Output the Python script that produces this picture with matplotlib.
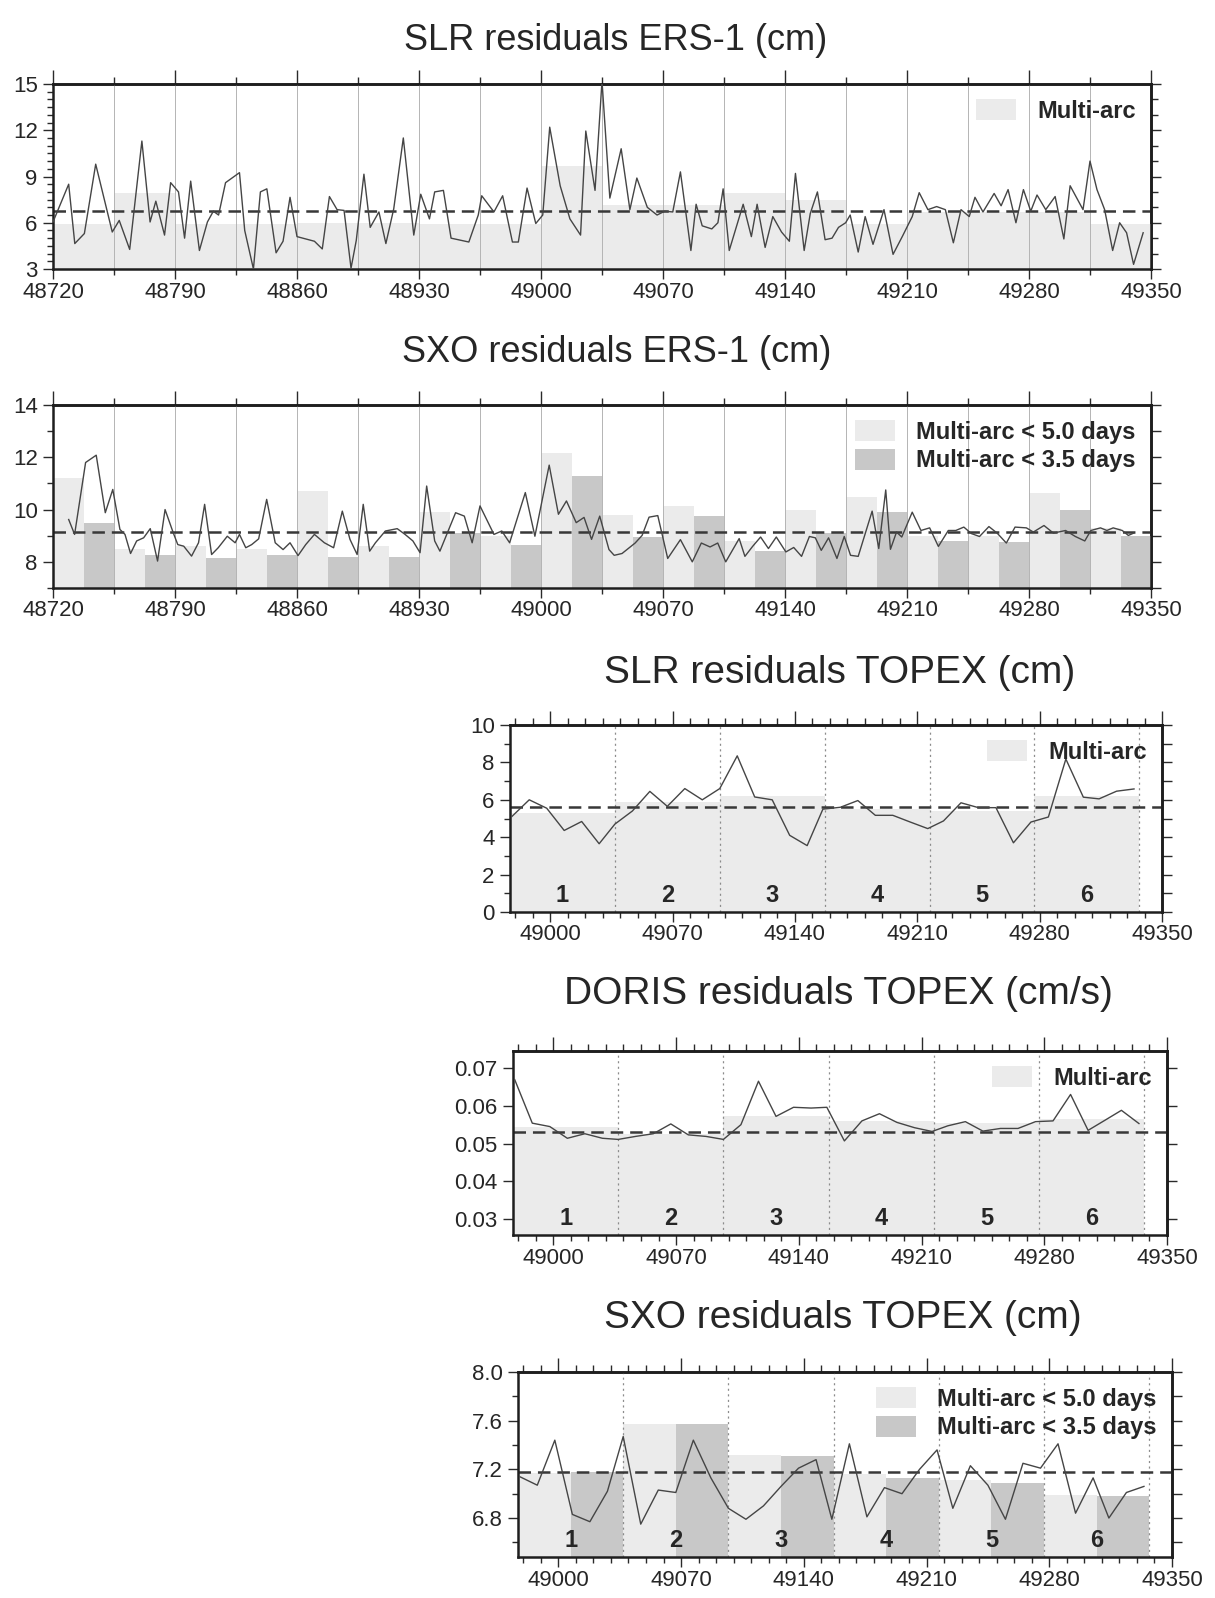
import numpy as np
import matplotlib
matplotlib.use('Agg')
import matplotlib.pyplot as plt
from matplotlib.patches import Patch
from matplotlib.ticker import MultipleLocator, NullFormatter, FormatStrFormatter

plt.rcParams['font.family'] = ['Liberation Sans', 'DejaVu Sans']
plt.rcParams['lines.scale_dashes'] = False

# ---------------- data ----------------
# ERS-1: 35-day repeat cycles
ers_cycle_starts = [48720, 48755, 48790, 48825, 48860, 48895, 48930, 48965, 49000,
                    49035, 49070, 49105, 49140, 49175, 49210, 49245, 49280, 49315]
ers_cycle_len = 35

slr_ers_bars = [5.9, 7.9, 5.9, 5.9, 6.0, 6.0, 5.9, 5.9, 9.65,
                7.15, 7.15, 7.9, 7.5, 5.9, 6.7, 6.7, 6.7, 5.9]
slr_ers_mean = 6.75
slr_ers_t = [48720, 48729, 48732.5, 48738, 48744.5, 48754, 48758, 48764, 48771, 48775.7,
             48779, 48784, 48787.5, 48792, 48795.5, 48799, 48804, 48808.6, 48812, 48815,
             48819, 48827, 48830, 48835, 48839, 48842.7, 48848, 48852, 48856, 48860,
             48870, 48874.5, 48878.6, 48883, 48887, 48891, 48894, 48898.4, 48902, 48907,
             48911, 48915.5, 48921, 48927, 48931, 48936, 48939, 48944, 48948.4, 48958.6,
             48964, 48966, 48973, 48978, 48983.6, 48987, 48992, 48997, 49001, 49005,
             49011, 49016.6, 49022.7, 49025.7, 49031, 49035, 49039.5, 49046, 49051, 49055,
             49061, 49066.6, 49071, 49075.6, 49080, 49086, 49089, 49092.5, 49098, 49101.5,
             49104.5, 49108, 49116, 49120.7, 49124, 49128.6, 49133, 49138, 49142.5, 49146,
             49151, 49154.5, 49158.6, 49163, 49167, 49170.7, 49174.8, 49177.4, 49182, 49186,
             49190.5, 49196.8, 49202, 49207.5, 49213, 49217, 49222, 49227, 49232, 49236.6,
             49241, 49245.7, 49249, 49253.6, 49260, 49264, 49268, 49272.5, 49276.8, 49281,
             49284.6, 49289.6, 49295, 49300, 49303.6, 49311, 49315, 49319, 49323.4, 49328,
             49332, 49336, 49340, 49345.5]
slr_ers_v = [6.05, 8.5, 4.65, 5.3, 9.8, 5.4, 6.15, 4.27, 11.3, 6.05,
             7.4, 5.2, 8.6, 8.0, 5.0, 8.7, 4.2, 6.05, 6.75, 6.5,
             8.6, 9.25, 5.5, 3.0, 8.0, 8.2, 4.05, 4.8, 7.65, 5.1,
             4.8, 4.3, 7.7, 6.85, 6.8, 3.05, 4.85, 9.15, 5.7, 6.7,
             4.65, 6.9, 11.5, 5.2, 7.85, 6.25, 8.0, 8.1, 5.0, 4.75,
             6.5, 7.75, 6.7, 7.75, 4.75, 4.75, 8.25, 5.95, 6.5, 12.2,
             8.4, 6.25, 5.2, 11.95, 8.1, 15.2, 7.6, 10.8, 6.85, 8.9,
             7.0, 6.5, 6.75, 6.7, 9.3, 4.2, 7.2, 5.8, 5.6, 6.0,
             8.2, 4.2, 7.2, 5.1, 7.2, 4.4, 6.4, 5.4, 4.8, 9.2,
             4.2, 6.6, 8.0, 4.9, 5.0, 5.7, 6.0, 6.5, 4.1, 6.4,
             4.6, 6.85, 3.95, 5.15, 6.4, 7.95, 6.85, 7.05, 6.85, 4.7,
             6.85, 6.4, 7.65, 6.7, 7.9, 7.1, 8.15, 6.0, 8.15, 6.75,
             7.8, 6.85, 7.7, 4.95, 8.4, 6.85, 10.0, 8.15, 6.85, 4.2,
             6.0, 5.35, 3.3, 5.35]

sxo_ers_bars_5d = [11.2, 8.5, 8.6, 8.5, 10.7, 8.6, 9.9, 9.0, 12.15,
                   9.8, 10.15, 8.8, 10.0, 10.5, 9.0, 9.0, 10.65, 9.3]
sxo_ers_bars_35d = [9.5, 8.28, 8.15, 8.28, 8.2, 8.2, 9.1, 8.64, 11.3,
                    8.96, 9.75, 8.4, 9.1, 9.9, 8.8, 8.75, 10.0, 9.0]
sxo_ers_mean = 9.15
sxo_ers_t = [48729, 48732.4, 48738.7, 48744.8, 48750, 48754.3, 48758.4, 48761.3, 48764.5, 48768,
             48772, 48775.8, 48780, 48784.3, 48789, 48791.6, 48795, 48799.5, 48803.5, 48807,
             48811, 48814.8, 48820, 48824.5, 48827, 48830.6, 48834, 48838, 48842.6, 48847.5,
             48852, 48856, 48860.6, 48865, 48870, 48875.7, 48881, 48886, 48890.4, 48894.5,
             48898, 48901.7, 48905, 48910.7, 48917.5, 48922, 48926.5, 48930.6, 48934.4, 48939,
             48942, 48951, 48956, 48960.5, 48965, 48973, 48977.5, 48982, 48991, 48996.5,
             49004.7, 49010, 49014.6, 49020.2, 49024.7, 49029, 49033.7, 49039,
             49042, 49046.5, 49054, 49058, 49062, 49067, 49072.7, 49080, 49086.8, 49092,
             49097, 49101.4, 49106, 49113.7, 49117, 49121.4, 49126, 49130.5, 49135, 49140.5,
             49145, 49149.5, 49154, 49157.4, 49160.8, 49165, 49169.8, 49174, 49177.6, 49182,
             49190, 49193.8, 49197.8, 49200.5, 49204, 49207, 49213, 49218, 49223, 49228,
             49233.7, 49238, 49242.6, 49247, 49251.6, 49257, 49261.7, 49267, 49272, 49278.5,
             49282.5, 49288.6, 49294, 49301, 49306.6, 49312, 49315.5, 49321, 49324.7, 49328.3,
             49333.5, 49337, 49340]
sxo_ers_v = [9.62, 9.05, 11.8, 12.08, 9.88, 10.77, 9.24, 9.05, 8.32, 8.8,
             8.92, 9.27, 8.03, 10.0, 9.11, 8.66, 8.6, 8.22, 8.73, 10.2,
             8.28, 8.54, 8.98, 8.73, 9.05, 8.54, 8.66, 8.88, 10.39, 8.73,
             8.47, 8.73, 8.24, 8.66, 9.05, 8.73, 8.54, 9.94, 8.86, 8.28,
             10.2, 8.41, 8.73, 9.18, 9.27, 9.05, 8.8, 8.35, 10.9, 8.8,
             8.41, 9.88, 9.75, 8.73, 10.14, 9.05, 9.18, 8.73, 10.65, 8.98,
             11.7, 9.82, 10.33, 9.5, 9.7, 8.86, 9.75, 8.47,
             8.25, 8.32, 8.72, 9.01, 9.71, 9.77, 8.13, 8.85, 8.0, 8.72,
             8.57, 8.72, 8.0, 8.89, 8.21, 8.59, 8.95, 8.51, 8.95, 8.38,
             8.55, 8.21, 8.97, 8.92, 8.44, 8.92, 8.13, 8.97, 8.25, 8.21,
             9.94, 8.51, 10.75, 8.48, 9.14, 8.95, 9.9, 9.2, 9.3, 8.59,
             9.2, 9.2, 9.33, 9.08, 8.97, 9.35, 9.1, 8.72, 9.33, 9.3,
             9.14, 9.39, 9.1, 9.2, 8.97, 8.8, 9.2, 9.3, 9.2, 9.3,
             9.2, 9.01, 9.1]

# TOPEX: six 60-day arcs, one value per 10-day cycle
topex_arc_starts = [48977, 49037, 49097, 49157, 49217, 49277]
topex_arc_len = 60
topex_t = [48978, 48988, 48998, 49008, 49018, 49028, 49037, 49047, 49057, 49067,
           49077, 49087, 49097, 49107, 49117, 49127, 49137, 49147, 49156, 49166,
           49176, 49186, 49196, 49206, 49216, 49225, 49235, 49245, 49255, 49265,
           49275, 49285, 49295, 49305, 49314, 49324, 49334]

slr_tpx_v = [5.1, 6.0, 5.55, 4.36, 4.84, 3.65, 4.7, 5.4, 6.45, 5.65,
             6.6, 6.0, 6.6, 8.35, 6.15, 6.0, 4.1, 3.55, 5.5, 5.6,
             5.96, 5.17, 5.17, 4.81, 4.46, 4.87, 5.84, 5.58, 5.58, 3.7,
             4.81, 5.08, 8.18, 6.14, 6.05, 6.46, 6.58]
slr_tpx_bars = [5.3, 5.9, 6.2, 5.5, 5.4, 6.2]
slr_tpx_mean = 5.6

doris_tpx_v = [0.0669, 0.0554, 0.0545, 0.0514, 0.0526, 0.0514, 0.0511, 0.0519, 0.0526, 0.0552,
               0.0523, 0.0519, 0.0511, 0.0550, 0.0665, 0.0572, 0.0596, 0.0594, 0.0596, 0.0507,
               0.0560, 0.0579, 0.0556, 0.0542, 0.0532, 0.0547, 0.0558, 0.0533, 0.0540, 0.0540,
               0.0558, 0.0560, 0.0630, 0.0535, 0.0560, 0.0588, 0.0553]
doris_tpx_bars = [0.0545, 0.0525, 0.0572, 0.0560, 0.0555, 0.0565]
doris_tpx_mean = 0.053

sxo_tpx_v = [7.14, 7.07, 7.44, 6.83, 6.77, 7.02, 7.47, 6.75, 7.03, 7.01,
             7.44, 7.13, 6.88, 6.79, 6.90, 7.06, 7.21, 7.28, 6.79, 7.41,
             6.81, 7.05, 7.0, 7.2, 7.36, 6.88, 7.23, 7.07, 6.79, 7.25,
             7.21, 7.41, 6.84, 7.13, 6.80, 7.01, 7.06]
sxo_tpx_bars_5d = [7.17, 7.57, 7.32, 7.16, 7.11, 6.99]
sxo_tpx_bars_35d = [7.18, 7.57, 7.31, 7.125, 7.09, 6.98]
sxo_tpx_mean = 7.18

# ---------------- style ----------------
LIGHT = '#ebebeb'
DARK = '#c8c8c8'
LINE = '#454545'
TXT = '#262626'
W, H = 1215, 1598

fig = plt.figure(figsize=(W / 100, H / 100), dpi=100)


def add_ax(left, top, right, bottom):
    return fig.add_axes([left / W, 1 - bottom / H, (right - left) / W, (bottom - top) / H])


def style(ax, xlim, ylim, xmaj, xmin, ymaj, ymin, rmaj, rmin, fmt=None):
    ax.set_xlim(*xlim)
    ax.set_ylim(*ylim)
    for s in ax.spines.values():
        s.set_linewidth(1.8)
        s.set_color('#1e1e1e')
    ax.xaxis.set_major_locator(MultipleLocator(xmaj))
    ax.xaxis.set_minor_locator(MultipleLocator(xmin))
    ax.yaxis.set_major_locator(MultipleLocator(ymaj))
    ax.yaxis.set_minor_locator(MultipleLocator(ymin))
    if fmt:
        ax.yaxis.set_major_formatter(fmt)
    ax.tick_params(which='both', direction='out', colors='#2a2a2a', width=1.0,
                   labelsize=16, labelcolor=TXT)
    ax.tick_params(which='major', length=7)
    ax.tick_params(which='minor', length=4)
    ax.tick_params(axis='x', pad=2)
    ax.tick_params(axis='y', pad=4)

    top = ax.secondary_xaxis('top')
    top.xaxis.set_major_locator(MultipleLocator(xmaj))
    top.xaxis.set_minor_locator(MultipleLocator(xmin))
    top.xaxis.set_major_formatter(NullFormatter())
    top.tick_params(which='both', direction='out', colors='#2a2a2a', width=1.0)
    top.tick_params(which='major', length=10)
    top.tick_params(which='minor', length=5)
    top.spines['top'].set_linewidth(1.8)

    right = ax.secondary_yaxis('right')
    right.yaxis.set_major_locator(MultipleLocator(rmaj))
    right.yaxis.set_minor_locator(MultipleLocator(rmin))
    right.yaxis.set_major_formatter(NullFormatter())
    right.tick_params(which='both', direction='out', colors='#2a2a2a', width=1.0)
    right.tick_params(which='major', length=7)
    right.tick_params(which='minor', length=5)
    right.spines['right'].set_linewidth(1.8)


def legend(ax, items):
    handles = [Patch(facecolor=c, edgecolor='none', label=l) for l, c in items]
    ax.legend(handles=handles, loc='upper right', frameon=False,
              prop=dict(weight='bold', size=17), handlelength=1.7, handleheight=1.0,
              handletextpad=0.9, borderaxespad=0.25, labelspacing=0.2,
              labelcolor=TXT)


def title(x, y, s, size=26):
    fig.text(x / W, 1 - y / H, s, ha='center', va='center', fontsize=size, color=TXT)


# ---------------- panel 1: SLR ERS-1 ----------------
ax1 = add_ax(53, 84, 1151, 269)
ax1.bar(ers_cycle_starts, slr_ers_bars, width=ers_cycle_len, align='edge',
        color=LIGHT, zorder=1)
for t in ers_cycle_starts[1:]:
    ax1.axvline(t, color='#b4b4b4', lw=0.7, zorder=1.5)
ax1.axhline(slr_ers_mean, color='#383838', lw=1.8, dashes=(9, 5), zorder=2.5)
ax1.plot(slr_ers_t, slr_ers_v, color=LINE, lw=1.0, zorder=3)
style(ax1, (48720, 49350), (3, 15), 70, 35, 3, 0.5, 3, 1)
legend(ax1, [('Multi-arc', LIGHT)])
title(616, 41, 'SLR residuals ERS-1 (cm)')

# ---------------- panel 2: SXO ERS-1 ----------------
ax2 = add_ax(53, 405, 1151, 588)
half = ers_cycle_len / 2
ax2.bar(ers_cycle_starts, sxo_ers_bars_5d, width=half, align='edge', color=LIGHT, zorder=1)
ax2.bar(np.array(ers_cycle_starts) + half, sxo_ers_bars_35d, width=half, align='edge',
        color=DARK, zorder=1)
for t in ers_cycle_starts[1:]:
    ax2.axvline(t, color='#b4b4b4', lw=0.7, zorder=1.5)
ax2.axhline(sxo_ers_mean, color='#383838', lw=1.8, dashes=(9, 5), zorder=2.5)
ax2.plot(sxo_ers_t, sxo_ers_v, color=LINE, lw=1.0, zorder=3)
style(ax2, (48720, 49350), (7, 14), 70, 35, 2, 1, 1, 1)
legend(ax2, [('Multi-arc < 5.0 days', LIGHT), ('Multi-arc < 3.5 days', DARK)])
title(617, 353, 'SXO residuals ERS-1 (cm)')


def topex_common(ax):
    bounds = topex_arc_starts[1:] + [topex_arc_starts[-1] + topex_arc_len]
    for t in bounds:
        ax.axvline(t, color='#8c8c8c', lw=0.9, ls=(0, (1.5, 2.5)), zorder=1.5)
    for i, s in enumerate(topex_arc_starts):
        ax.text(s + topex_arc_len / 2, 0.025, str(i + 1), transform=ax.get_xaxis_transform(),
                ha='center', va='bottom', fontsize=17, fontweight='bold', color=TXT, zorder=4)


# ---------------- panel 3: SLR TOPEX ----------------
ax3 = add_ax(510, 725, 1162, 912)
ax3.bar(topex_arc_starts, slr_tpx_bars, width=topex_arc_len, align='edge', color=LIGHT, zorder=1)
topex_common(ax3)
ax3.axhline(slr_tpx_mean, color='#383838', lw=1.8, dashes=(9, 5), zorder=2.5)
ax3.plot(topex_t, slr_tpx_v, color=LINE, lw=1.0, zorder=3)
style(ax3, (48977, 49350), (0, 10), 70, 10, 2, 1, 1, 1)
legend(ax3, [('Multi-arc', LIGHT)])
title(840, 673, 'SLR residuals TOPEX (cm)', 28)

# ---------------- panel 4: DORIS TOPEX ----------------
ax4 = add_ax(513, 1051, 1167, 1235)
ax4.bar(topex_arc_starts, doris_tpx_bars, width=topex_arc_len, align='edge', color=LIGHT, zorder=1)
topex_common(ax4)
ax4.axhline(doris_tpx_mean, color='#383838', lw=1.8, dashes=(9, 5), zorder=2.5)
ax4.plot(topex_t, doris_tpx_v, color=LINE, lw=1.0, zorder=3)
style(ax4, (48977, 49350), (0.0258, 0.0745), 70, 10, 0.01, 0.01, 0.01, 0.01,
      fmt=FormatStrFormatter('%.2f'))
legend(ax4, [('Multi-arc', LIGHT)])
title(838, 994, 'DORIS residuals TOPEX (cm/s)', 28)

# ---------------- panel 5: SXO TOPEX ----------------
ax5 = add_ax(518, 1372, 1172, 1557)
half_t = topex_arc_len / 2
ax5.bar(topex_arc_starts, sxo_tpx_bars_5d, width=half_t, align='edge', color=LIGHT, zorder=1)
ax5.bar(np.array(topex_arc_starts) + half_t, sxo_tpx_bars_35d, width=half_t, align='edge',
        color=DARK, zorder=1)
topex_common(ax5)
ax5.axhline(sxo_tpx_mean, color='#383838', lw=1.8, dashes=(9, 5), zorder=2.5)
ax5.plot(topex_t, sxo_tpx_v, color=LINE, lw=1.0, zorder=3)
style(ax5, (48977, 49350), (6.48, 8.0), 70, 10, 0.4, 0.2, 0.2, 0.2,
      fmt=FormatStrFormatter('%.1f'))
legend(ax5, [('Multi-arc < 5.0 days', LIGHT), ('Multi-arc < 3.5 days', DARK)])
title(843, 1318, 'SXO residuals TOPEX (cm)', 28)

fig.savefig('out.png', dpi=100, facecolor='white')
